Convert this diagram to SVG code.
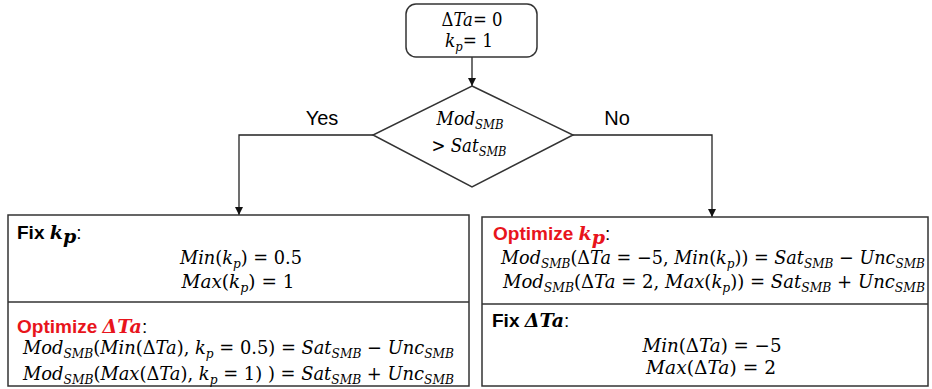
<svg xmlns="http://www.w3.org/2000/svg" width="932" height="389" viewBox="0 0 932 389">
  <style>
    .box { fill: #fff; stroke: #333; stroke-width: 1.5; }
    .div { stroke: #333; stroke-width: 1.5; }
    .wire { fill: none; stroke: #222; stroke-width: 1.3; }
    .m { font-family: "DejaVu Serif", "Liberation Serif", serif; font-style: italic; font-size: 19px; fill: #000; }
    .u { font-style: normal; }
    .s { font-size: 13px; }
    .lab { font-family: "Liberation Sans", Arial, sans-serif; font-size: 19px; fill: #000; }
    .yn { font-size: 20px; }
    .h { font-weight: bold; }
    .mb { font-family: "DejaVu Serif", "Liberation Serif", serif; font-style: italic; font-weight: bold; font-size: 19px; }
    .red { fill: #e8141c; }
    .blk { fill: #000; font-weight: normal; }
  </style>
  <defs>
    <marker id="arrow" viewBox="0 0 10 10" refX="10" refY="5" markerWidth="8" markerHeight="8" markerUnits="userSpaceOnUse" orient="auto">
      <path d="M0,0 L10,5 L0,10 z" fill="#111"/>
    </marker>
  </defs>

  <!-- connectors -->
  <g id="connectors">
    <line class="wire" x1="472" y1="57" x2="472" y2="86" marker-end="url(#arrow)"/>
    <polyline class="wire" points="373,135 239,135 239,215" marker-end="url(#arrow)"/>
    <polyline class="wire" points="573,135 712,135 712,217" marker-end="url(#arrow)"/>
    <text class="lab yn" x="322" y="125" text-anchor="middle">Yes</text>
    <text class="lab yn" x="617" y="125" text-anchor="middle">No</text>
  </g>

  <!-- start: initial values -->
  <g id="start">
    <rect class="box" x="406" y="4" width="131" height="53" rx="10"/>
    <text class="m" x="472" y="26" text-anchor="middle" textLength="61" lengthAdjust="spacingAndGlyphs"><tspan class="u">Δ</tspan>Ta<tspan class="u">= 0</tspan></text>
    <text class="m" x="469" y="47" text-anchor="middle" textLength="48" lengthAdjust="spacingAndGlyphs">k<tspan class="s" dy="4">p</tspan><tspan class="u" dy="-4">= 1</tspan></text>
  </g>

  <!-- decision -->
  <g id="decision">
    <polygon class="box" points="472,86 573,135 472,187 373,135"/>
    <text class="m" x="470" y="125" text-anchor="middle" textLength="67" lengthAdjust="spacingAndGlyphs">Mod<tspan class="s" dy="4">SMB</tspan></text>
    <text class="m" x="469" y="152" text-anchor="middle" textLength="75" lengthAdjust="spacingAndGlyphs"><tspan class="u">&gt; </tspan>Sat<tspan class="s" dy="4">SMB</tspan></text>
  </g>

  <!-- left branch: fix kp, optimize dTa -->
  <g id="left-branch">
    <rect class="box" x="8" y="215" width="461" height="171"/>
    <line class="div" x1="8" y1="302" x2="469" y2="302"/>
    <text class="lab h" x="17" y="239">Fix <tspan class="mb">k</tspan><tspan class="mb s" dy="4">p</tspan><tspan class="blk" dy="-4">:</tspan></text>
    <text class="m" x="241" y="264" text-anchor="middle" textLength="122" lengthAdjust="spacingAndGlyphs">Min<tspan class="u">(</tspan>k<tspan class="s" dy="4">p</tspan><tspan class="u" dy="-4">) = 0.5</tspan></text>
    <text class="m" x="238" y="288" text-anchor="middle" textLength="113" lengthAdjust="spacingAndGlyphs">Max<tspan class="u">(</tspan>k<tspan class="s" dy="4">p</tspan><tspan class="u" dy="-4">) = 1</tspan></text>
    <text class="lab h red" x="17" y="333">Optimize <tspan class="mb">ΔTa</tspan><tspan class="blk">:</tspan></text>
    <text class="m" x="23" y="354" textLength="431" lengthAdjust="spacingAndGlyphs">Mod<tspan class="s" dy="4">SMB</tspan><tspan class="u" dy="-4">(</tspan>Min<tspan class="u">(Δ</tspan>Ta<tspan class="u">), </tspan>k<tspan class="s" dy="4">p</tspan><tspan class="u" dy="-4"> = 0.5) = </tspan>Sat<tspan class="s" dy="4">SMB</tspan><tspan class="u" dy="-4"> − </tspan>Unc<tspan class="s" dy="4">SMB</tspan></text>
    <text class="m" x="23" y="380" textLength="431" lengthAdjust="spacingAndGlyphs">Mod<tspan class="s" dy="4">SMB</tspan><tspan class="u" dy="-4">(</tspan>Max<tspan class="u">(Δ</tspan>Ta<tspan class="u">), </tspan>k<tspan class="s" dy="4">p</tspan><tspan class="u" dy="-4"> = 1) ) = </tspan>Sat<tspan class="s" dy="4">SMB</tspan><tspan class="u" dy="-4"> + </tspan>Unc<tspan class="s" dy="4">SMB</tspan></text>
  </g>

  <!-- right branch: optimize kp, fix dTa -->
  <g id="right-branch">
    <rect class="box" x="482" y="217" width="446" height="169"/>
    <line class="div" x1="482" y1="304" x2="928" y2="304"/>
    <text class="lab h red" x="493" y="240">Optimize <tspan class="mb">k</tspan><tspan class="mb s" dy="4">p</tspan><tspan class="blk" dy="-4">:</tspan></text>
    <text class="m" x="501" y="264" textLength="424" lengthAdjust="spacingAndGlyphs">Mod<tspan class="s" dy="4">SMB</tspan><tspan class="u" dy="-4">(Δ</tspan>Ta<tspan class="u"> = −5, </tspan>Min<tspan class="u">(</tspan>k<tspan class="s" dy="4">p</tspan><tspan class="u" dy="-4">)) = </tspan>Sat<tspan class="s" dy="4">SMB</tspan><tspan class="u" dy="-4"> − </tspan>Unc<tspan class="s" dy="4">SMB</tspan></text>
    <text class="m" x="503" y="288" textLength="422" lengthAdjust="spacingAndGlyphs">Mod<tspan class="s" dy="4">SMB</tspan><tspan class="u" dy="-4">(Δ</tspan>Ta<tspan class="u"> = 2, </tspan>Max<tspan class="u">(</tspan>k<tspan class="s" dy="4">p</tspan><tspan class="u" dy="-4">)) = </tspan>Sat<tspan class="s" dy="4">SMB</tspan><tspan class="u" dy="-4"> + </tspan>Unc<tspan class="s" dy="4">SMB</tspan></text>
    <text class="lab h" x="492" y="327">Fix <tspan class="mb">ΔTa</tspan><tspan class="blk">:</tspan></text>
    <text class="m" x="712" y="352" text-anchor="middle" textLength="139" lengthAdjust="spacingAndGlyphs">Min<tspan class="u">(Δ</tspan>Ta<tspan class="u">) = −5</tspan></text>
    <text class="m" x="711" y="374" text-anchor="middle" textLength="130" lengthAdjust="spacingAndGlyphs">Max<tspan class="u">(Δ</tspan>Ta<tspan class="u">) = 2</tspan></text>
  </g>
</svg>
